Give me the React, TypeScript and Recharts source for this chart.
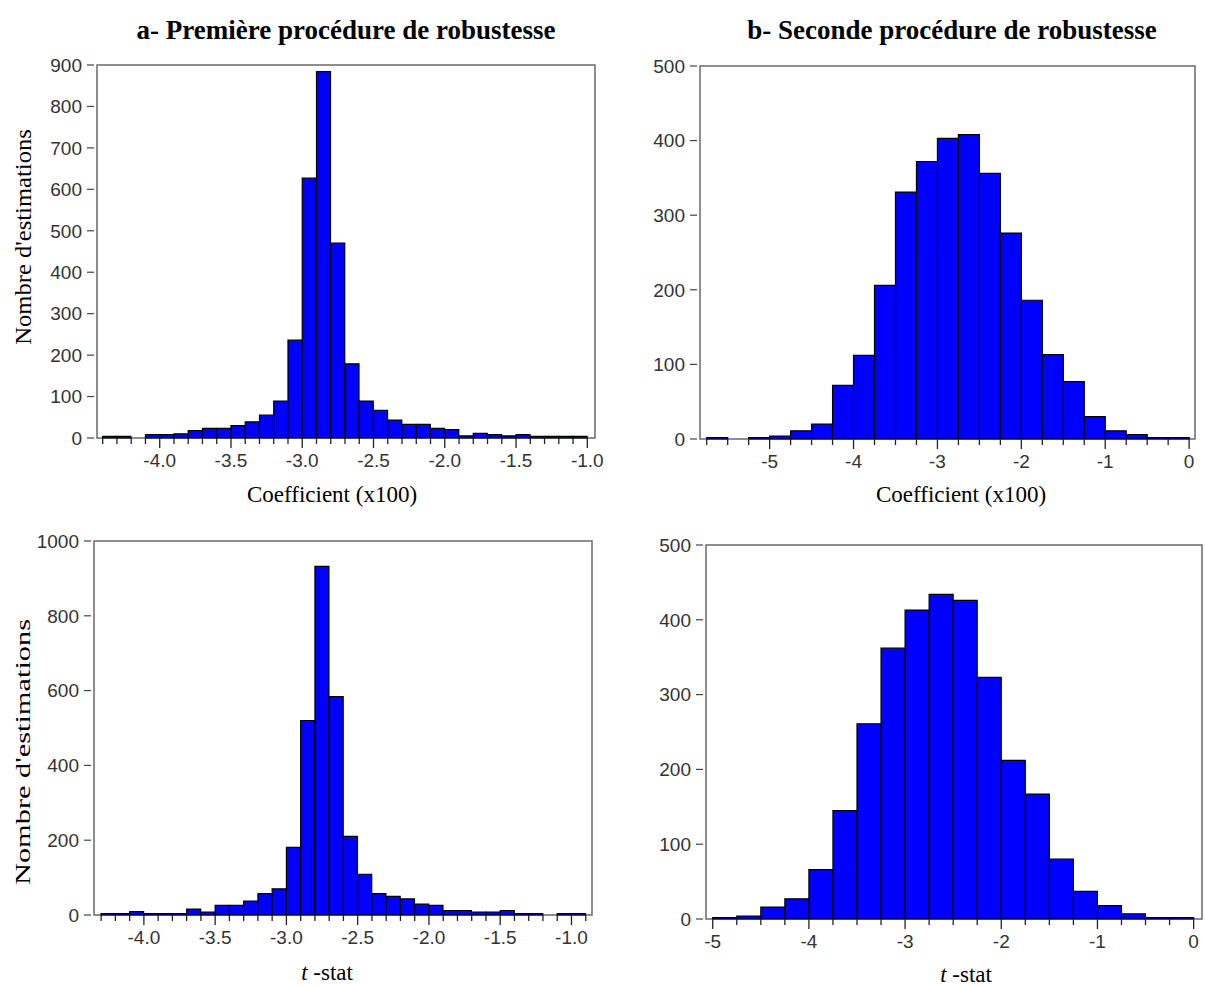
import React from 'react';
import { BarChart, Bar, XAxis, YAxis, ReferenceArea } from 'recharts';

// bin centres and counts
const binsA = [-4.35, -4.25, -4.15, -4.05, -3.95, -3.85, -3.75, -3.65, -3.55, -3.45, -3.35, -3.25, -3.15, -3.05, -2.95, -2.85, -2.75, -2.65, -2.55, -2.45, -2.35, -2.25, -2.15, -2.05, -1.95, -1.85, -1.75, -1.65, -1.55, -1.45, -1.35, -1.25, -1.15, -1.05];
const countsA = [4, 4, 0, 8, 8, 10, 18, 23, 23, 30, 39, 55, 89, 236, 627, 884, 470, 179, 89, 67, 43, 33, 33, 23, 20, 5, 11, 8, 5, 8, 4, 4, 4, 4];

const binsB = [-5.625, -5.375, -5.125, -4.875, -4.625, -4.375, -4.125, -3.875, -3.625, -3.375, -3.125, -2.875, -2.625, -2.375, -2.125, -1.875, -1.625, -1.375, -1.125, -0.875, -0.625, -0.375, -0.125];
const countsB = [2, 0, 2, 4, 11, 20, 72, 112, 206, 331, 372, 403, 408, 356, 276, 186, 113, 77, 30, 11, 6, 2, 2];

const binsC = [-4.25, -4.15, -4.05, -3.95, -3.85, -3.75, -3.65, -3.55, -3.45, -3.35, -3.25, -3.15, -3.05, -2.95, -2.85, -2.75, -2.65, -2.55, -2.45, -2.35, -2.25, -2.15, -2.05, -1.95, -1.85, -1.75, -1.65, -1.55, -1.45, -1.35, -1.25, -1.15, -1.05, -0.95];
const countsC = [4, 4, 9, 4, 4, 4, 16, 8, 26, 26, 37, 57, 70, 181, 520, 932, 584, 210, 109, 57, 50, 43, 29, 26, 12, 12, 8, 8, 12, 4, 4, 0, 4, 4];

const binsD = [-4.875, -4.625, -4.375, -4.125, -3.875, -3.625, -3.375, -3.125, -2.875, -2.625, -2.375, -2.125, -1.875, -1.625, -1.375, -1.125, -0.875, -0.625, -0.375, -0.125];
const countsD = [2, 4, 16, 27, 66, 145, 261, 362, 413, 434, 426, 323, 212, 167, 80, 37, 18, 7, 2, 2];

const xLabelsA = [-4.0, -3.5, -3.0, -2.5, -2.0, -1.5, -1.0];
const xLabelsB = [-5, -4, -3, -2, -1, 0];
const xLabelsC = [-4.0, -3.5, -3.0, -2.5, -2.0, -1.5, -1.0];
const xLabelsD = [-5, -4, -3, -2, -1, 0];

const yTicksA = [0, 100, 200, 300, 400, 500, 600, 700, 800, 900];
const yTicksB = [0, 100, 200, 300, 400, 500];
const yTicksC = [0, 200, 400, 600, 800, 1000];
const yTicksD = [0, 100, 200, 300, 400, 500];

const SERIF = '"Liberation Serif", "Times New Roman", serif';
const SANS = '"Liberation Sans", Arial, sans-serif';
const FRAME = '#6a6a6a';

const r3 = (v: number) => Math.round(v * 1000) / 1000;

const toRows = (bins: number[], counts: number[]) => bins.map((x, i) => ({ x, n: counts[i] }));

const binEdges = (bins: number[]) => {
  const w = bins[1] - bins[0];
  const edges = bins.map((c) => r3(c - w / 2));
  edges.push(r3(bins[bins.length - 1] + w / 2));
  return edges;
};

const XTick = (props: any) => {
  const { x, y, payload, labels, digits } = props;
  const v = payload.value;
  const major = labels.some((l: number) => Math.abs(l - v) < 1e-6);
  return (
    <g>
      <line x1={x} y1={y} x2={x} y2={y + (major ? 10 : 6)} stroke="#222" strokeWidth={1.3} />
      {major && (
        <text x={x} y={y + 16} dy="0.71em" textAnchor="middle" fontFamily={SANS} fontSize={19} fill="#333">
          {v.toFixed(digits)}
        </text>
      )}
    </g>
  );
};

const YTick = (props: any) => {
  const { x, y, payload } = props;
  return (
    <g>
      <line x1={x - 10} y1={y} x2={x - 3} y2={y} stroke="#444" strokeWidth={1.2} />
      <text x={x - 15} y={y} dy="0.355em" textAnchor="end" fontFamily={SANS} fontSize={19} fill="#333">
        {payload.value}
      </text>
    </g>
  );
};

interface PanelProps {
  rect: { left: number; top: number; right: number; bottom: number };
  bins: number[];
  counts: number[];
  domain: [number, number];
  yMax: number;
  yTicks: number[];
  labels: number[];
  digits: number;
}

const Panel: React.FC<PanelProps> = ({ rect, bins, counts, domain, yMax, yTicks, labels, digits }) => {
  const padL = 90, padT = 10, padR = 12, padB = 40;
  const w = rect.right - rect.left + padL + padR;
  const h = rect.bottom - rect.top + padT + padB;
  const edges = binEdges(bins);
  return (
    <div style={{ position: 'absolute', left: rect.left - padL, top: rect.top - padT }}>
      <BarChart
        width={w}
        height={h}
        data={toRows(bins, counts)}
        margin={{ top: padT, right: padR, bottom: padB - 30, left: padL - 60 }}
        barCategoryGap={0}
        barGap={0}
      >
        <XAxis
          dataKey="x"
          type="number"
          domain={domain}
          ticks={edges}
          interval={0}
          height={30}
          tickSize={0}
          tickMargin={0}
          tickLine={false}
          axisLine={false}
          tick={(p: any) => <XTick {...p} labels={labels} digits={digits} />}
          allowDataOverflow
        />
        <YAxis
          type="number"
          domain={[0, yMax]}
          ticks={yTicks}
          interval={0}
          width={60}
          tickSize={0}
          tickMargin={0}
          tickLine={false}
          axisLine={false}
          tick={(p: any) => <YTick {...p} />}
        />
        <ReferenceArea
          x1={domain[0]}
          x2={domain[1]}
          y1={0}
          y2={yMax}
          fill="none"
          stroke={FRAME}
          strokeWidth={1.5}
          ifOverflow="visible"
        />
        <Bar dataKey="n" fill="#0000ff" stroke="#000" strokeWidth={1.2} isAnimationActive={false} />
      </BarChart>
    </div>
  );
};

const Txt: React.FC<{ x: number; y: number; size: number; bold?: boolean; rotate?: boolean; stretch?: number; children: React.ReactNode }> = ({
  x, y, size, bold, rotate, stretch = 1, children,
}) => (
  <div
    style={{
      position: 'absolute',
      left: x,
      top: y,
      transform: `translate(-50%, -50%)${rotate ? ' rotate(-90deg)' : ''} scaleX(${stretch})`,
      fontFamily: SERIF,
      fontSize: size,
      fontWeight: bold ? 'bold' : 'normal',
      whiteSpace: 'nowrap',
      color: '#000',
      lineHeight: 1,
    }}
  >
    {children}
  </div>
);

const App: React.FC = () => (
  <div style={{ position: 'absolute', left: 0, top: 0, width: 1205, height: 985, background: '#fff', overflow: 'hidden' }}>
    <Txt x={346} y={30} size={27} bold>a- Première procédure de robustesse</Txt>
    <Txt x={952} y={30} size={27} bold>b- Seconde procédure de robustesse</Txt>

    <Panel rect={{ left: 97, top: 65, right: 595, bottom: 438 }} bins={binsA} counts={countsA}
      domain={[-4.44, -0.946]} yMax={900} yTicks={yTicksA} labels={xLabelsA} digits={1} />
    <Panel rect={{ left: 700, top: 66, right: 1195, bottom: 439 }} bins={binsB} counts={countsB}
      domain={[-5.83, 0.07]} yMax={500} yTicks={yTicksB} labels={xLabelsB} digits={0} />
    <Panel rect={{ left: 94, top: 541, right: 592, bottom: 915 }} bins={binsC} counts={countsC}
      domain={[-4.35, -0.856]} yMax={1000} yTicks={yTicksC} labels={xLabelsC} digits={1} />
    <Panel rect={{ left: 706, top: 545, right: 1202, bottom: 919 }} bins={binsD} counts={countsD}
      domain={[-5.07, 0.087]} yMax={500} yTicks={yTicksD} labels={xLabelsD} digits={0} />

    <Txt x={332} y={494} size={23}>Coefficient (x100)</Txt>
    <Txt x={961} y={494} size={23}>Coefficient (x100)</Txt>
    <Txt x={327} y={972} size={23}><i>t</i> -stat</Txt>
    <Txt x={966} y={974} size={23}><i>t</i> -stat</Txt>

    <Txt x={23} y={237} size={23} rotate stretch={1.07}>Nombre d'estimations</Txt>
    <Txt x={23} y={752} size={22} rotate stretch={1.38}>Nombre d'estimations</Txt>
  </div>
);

export default App;
